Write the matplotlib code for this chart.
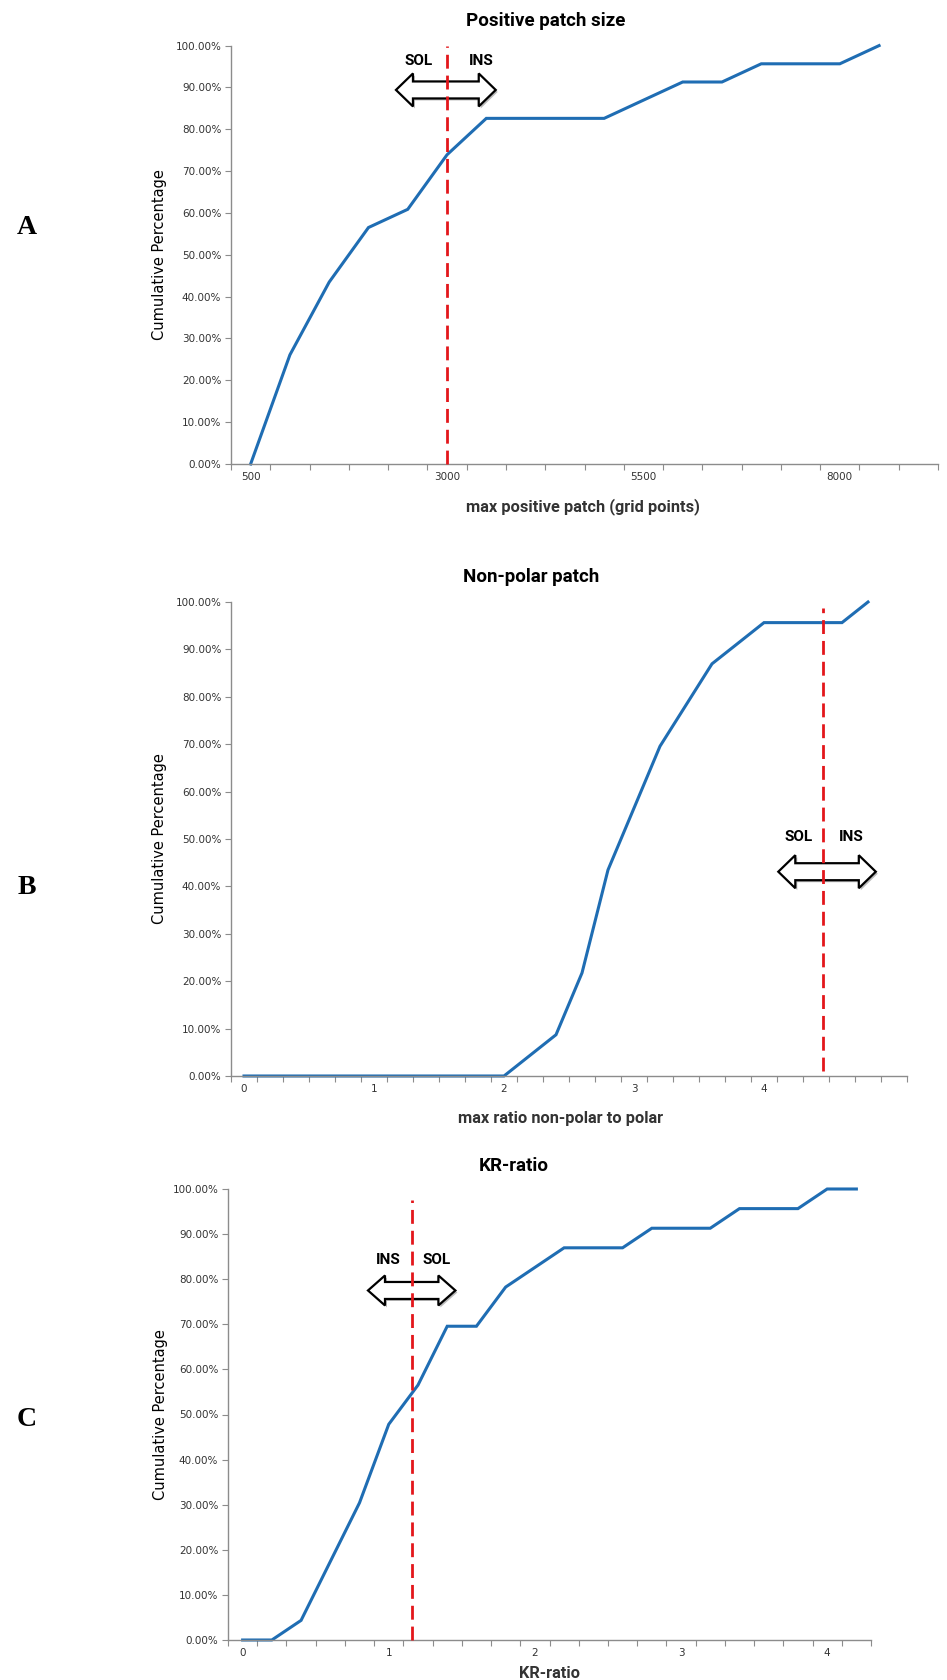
#_____________________________LIBRARIES_______________________________________#
import numpy as np
import matplotlib
matplotlib.use('Agg')
from matplotlib import pyplot as plt
from matplotlib.patches import Polygon
from matplotlib.ticker import FuncFormatter

#_________________________________DATA___________________________________________#
# Panel A: positive patch size (category axis, like Excel)
cats_a = ['500', '1000', '1500', '2000', '2500', '3000', '3500', '4000', '4500',
          '5000', '5500', '6000', '6500', '7000', '7500', '8000', '8500', '9000']
vals_a = [0.00, 26.09, 43.48, 56.52, 60.87, 73.91, 82.61, 82.61, 82.61,
          82.61, 86.96, 91.30, 91.30, 95.65, 95.65, 95.65, 100.00]
lab_a = [0, 5, 10, 15]
cut_a = 5            # red cut-off (category position, 3000)

# Panel B: max ratio non-polar to polar
cats_b = ['0', '0.2', '0.4', '0.6', '0.8', '1', '1.2', '1.4', '1.6', '1.8', '2',
          '2.2', '2.4', '2.6', '2.8', '3', '3.2', '3.4', '3.6', '3.8', '4',
          '4.2', '4.4', '4.6', '4.8', '5']
vals_b = [0.00, 0.00, 0.00, 0.00, 0.00, 0.00, 0.00, 0.00, 0.00, 0.00, 0.00,
          4.35, 8.70, 21.74, 43.48, 56.52, 69.57, 78.26, 86.96, 91.30, 95.65,
          95.65, 95.65, 95.65, 100.00]
lab_b = [0, 5, 10, 15, 20]
cut_b = 22.28

# Panel C: KR-ratio
cats_c = ['0', '0.2', '0.4', '0.6', '0.8', '1', '1.2', '1.4', '1.6', '1.8', '2',
          '2.2', '2.4', '2.6', '2.8', '3', '3.2', '3.4', '3.6', '3.8', '4', '4.2']
vals_c = [0.00, 0.00, 4.35, 17.39, 30.43, 47.83, 56.52, 69.57, 69.57, 78.26, 82.61,
          86.96, 86.96, 86.96, 91.30, 91.30, 91.30, 95.65, 95.65, 95.65, 100.00, 100.00]
lab_c = [0, 5, 10, 15, 20]
cut_c = 5.78

#_________________________________STYLE___________________________________________#
W, H, DPI = 947, 1680, 100
NARROW = ['Roboto', 'DejaVu Sans']
BLUE = '#1f6db3'
RED = '#e3161b'
GREY = '#8c8c8c'
TXT = '#333333'

fig = plt.figure(figsize=(W / DPI, H / DPI), dpi=DPI)


def px_box(left, right, top, bottom):
    # pixel box -> figure fraction [l, b, w, h]
    return [left / W, 1 - bottom / H, (right - left) / W, (bottom - top) / H]


def setup(ax, cats, labels, ylab_x):
    n = len(cats)
    ax.set_xlim(-0.5, n - 0.5)
    ax.set_ylim(0, 100)
    for s in ['top', 'right']:
        ax.spines[s].set_visible(False)
    for s in ['left', 'bottom']:
        ax.spines[s].set_color(GREY)
        ax.spines[s].set_linewidth(1.0)
    # tick marks between categories, labels on category centres
    ax.set_xticks(np.arange(n + 1) - 0.5)
    ax.set_xticklabels([])
    ax.set_xticks(labels, [cats[i] for i in labels], minor=True)
    ax.tick_params(axis='x', which='major', length=4, color=GREY, direction='out')
    ax.tick_params(axis='x', which='minor', length=0, pad=6, labelsize=7.5, labelcolor=TXT)
    ax.set_yticks(range(0, 101, 10))
    ax.yaxis.set_major_formatter(FuncFormatter(lambda v, p: '%.2f%%' % v))
    ax.tick_params(axis='y', length=4, color=GREY, pad=3, labelsize=7.5, labelcolor=TXT)
    ax.set_ylabel('Cumulative Percentage', fontsize=10.5, color='black')
    ax.yaxis.set_label_coords(ylab_x, 0.5)


def double_arrow(ax, x0, x1, yc, head_h=33, shaft_h=17, head_len=17):
    # hollow double-headed arrow, sizes given in pixels
    bb = ax.get_position()
    ux = (ax.get_xlim()[1] - ax.get_xlim()[0]) / (bb.width * W)
    uy = (ax.get_ylim()[1] - ax.get_ylim()[0]) / (bb.height * H)
    hh, sh, hl = head_h / 2 * uy, shaft_h / 2 * uy, head_len * ux
    pts = np.array([(x0, yc), (x0 + hl, yc + hh), (x0 + hl, yc + sh), (x1 - hl, yc + sh),
                    (x1 - hl, yc + hh), (x1, yc), (x1 - hl, yc - hh), (x1 - hl, yc - sh),
                    (x0 + hl, yc - sh), (x0 + hl, yc - hh)])
    shadow = pts + np.array([2 * ux, -2 * uy])
    ax.add_patch(Polygon(shadow, closed=True, fc='#bbbbbb', ec='none', zorder=3, clip_on=False))
    ax.add_patch(Polygon(pts, closed=True, fc='white', ec='black', lw=1.6, zorder=3,
                         joinstyle='miter', clip_on=False))


def panel(box, cats, vals, labels, cut, cut_y, ylab_x):
    ax = fig.add_axes(px_box(*box))
    setup(ax, cats, labels, ylab_x)
    ax.plot(range(len(vals)), vals, color=BLUE, lw=2.2, zorder=2, clip_on=False,
            solid_joinstyle='miter')
    ax.plot([cut, cut], cut_y, color=RED, lw=2.0, ls=(0, (5, 2.5)), zorder=4, clip_on=False)
    return ax


#_________________________________PANELS___________________________________________#
ax_a = panel((231, 938, 45.6, 464), cats_a, vals_a, lab_a, cut_a, [0, 100], -0.0906)
double_arrow(ax_a, 3.70, 6.24, 89.4)
ax_a.text(4.28, 96.2, 'SOL', family=NARROW, weight='bold', fontsize=11, ha='center', va='center')
ax_a.text(5.86, 96.2, 'INS', family=NARROW, weight='bold', fontsize=11, ha='center', va='center')

ax_b = panel((231, 907, 602, 1076), cats_b, vals_b, lab_b, cut_b, [1.0, 98.7], -0.0947)
double_arrow(ax_b, 20.55, 24.3, 43.1)
ax_b.text(21.33, 50.5, 'SOL', family=NARROW, weight='bold', fontsize=11, ha='center', va='center')
ax_b.text(23.35, 50.5, 'INS', family=NARROW, weight='bold', fontsize=11, ha='center', va='center')

ax_c = panel((228, 871, 1189, 1640), cats_c, vals_c, lab_c, cut_c, [0, 97.6], -0.0933)
double_arrow(ax_c, 4.29, 7.28, 77.5, head_h=30)
ax_c.text(4.97, 84.3, 'INS', family=NARROW, weight='bold', fontsize=11, ha='center', va='center')
ax_c.text(6.64, 84.3, 'SOL', family=NARROW, weight='bold', fontsize=11, ha='center', va='center')

# titles and x labels (Excel centres them on the chart area, not the plot)
fig.text(546 / W, 1 - 21 / H, 'Positive patch size', family=NARROW, weight='bold',
         fontsize=13.5, ha='center', va='center')
fig.text(583 / W, 1 - 507 / H, 'max positive patch (grid points)', family=NARROW,
         weight='bold', fontsize=11.8, ha='center', va='center', color=TXT)
fig.text(531 / W, 1 - 577 / H, 'Non-polar patch', family=NARROW, weight='bold',
         fontsize=13.5, ha='center', va='center')
fig.text(561 / W, 1 - 1118 / H, 'max ratio non-polar to polar', family=NARROW,
         weight='bold', fontsize=11.8, ha='center', va='center', color=TXT)
fig.text(514 / W, 1 - 1166 / H, 'KR-ratio', family=NARROW, weight='bold',
         fontsize=13.5, ha='center', va='center')
fig.text(549 / W, 1 - 1673 / H, 'KR-ratio', family=NARROW, weight='bold',
         fontsize=11.8, ha='center', va='center', color=TXT)

# panel letters
for letter, yy in [('A', 228), ('B', 887), ('C', 1419)]:
    fig.text(27 / W, 1 - yy / H, letter, family='Liberation Serif', weight='bold',
             fontsize=20, ha='center', va='center')

fig.savefig('out.png', dpi=DPI, facecolor='white')
